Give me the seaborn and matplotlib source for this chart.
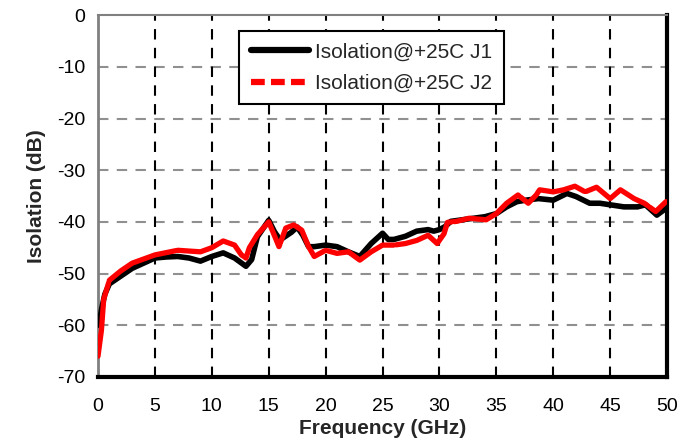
import numpy as np
import pandas as pd
import seaborn as sns
import matplotlib
matplotlib.use("Agg")
from matplotlib import pyplot as plt
from matplotlib.lines import Line2D

# values
freq_j1 = [0.1, 0.3, 0.6, 1, 2, 3, 4, 5, 6, 7, 8, 9, 10, 11, 12, 13, 13.5, 14, 15,
           15.5, 16, 17, 17.5, 18, 18.5, 19, 20, 21, 22, 23, 24, 25, 25.5, 26, 27,
           28, 29, 29.5, 30, 30.5, 31, 32, 33, 34, 35, 35.9, 36.8, 37.6, 38.7, 40,
           41.2, 42, 43.2, 44.1, 45, 46.2, 47.4, 48.1, 49.1, 49.9]
iso_j1 = [-60, -57, -54, -52, -50.5, -49, -48, -47, -46.8, -46.7, -47, -47.6,
          -46.7, -46, -47, -48.6, -47.3, -42.9, -39.7, -41.9, -43.5, -42, -41,
          -42.6, -44.8, -44.8, -44.5, -44.8, -45.8, -46.7, -44.2, -42.2, -43.4,
          -43.4, -42.8, -41.8, -41.5, -41.8, -41.5, -40.9, -39.9, -39.6, -39.3,
          -39.0, -38.4, -37.1, -36.1, -35.8, -35.5, -35.8, -34.5, -35.1, -36.4,
          -36.4, -36.7, -37.1, -37.1, -36.7, -38.7, -37.4]

freq_j2 = [0.0, 0.3, 0.5, 1, 2, 3, 5, 7, 9, 10, 11, 12, 12.6, 13, 13.3, 14, 15,
           15.9, 16.5, 17.2, 17.9, 18.5, 19, 20, 21, 22, 23, 24, 25, 26, 27, 28,
           29, 29.8, 30.4, 30.7, 31.5, 32.6, 34.1, 35, 35.9, 36.9, 37.8, 38.5,
           38.8, 40, 40.9, 41.9, 42.8, 43.8, 45, 45.9, 47.1, 48, 49, 49.9]
iso_j2 = [-66, -61, -55, -51.3, -49.5, -48, -46.4, -45.5, -45.8, -45, -43.7,
          -44.5, -46.4, -47, -45, -42.5, -40, -44.8, -41.2, -40.6, -41.6, -44.8,
          -46.7, -45.5, -46.1, -45.8, -47.4, -45.8, -44.5, -44.5, -44.2, -43.6,
          -42.6, -44.2, -42.3, -40.1, -39.9, -39.3, -39.6, -38.4, -36.4, -34.8,
          -36.4, -34.8, -33.8, -34.2, -33.8, -33.1, -34.2, -33.3, -35.5, -33.8,
          -35.5, -36.4, -38.0, -36.1]

labels = ["Isolation@+25C J1", "Isolation@+25C J2"]
x_ticks = list(range(0, 51, 5))
y_ticks = list(range(-70, 1, 10))

df1 = pd.DataFrame({"Frequency": freq_j1, "Isolation": iso_j1})
df2 = pd.DataFrame({"Frequency": freq_j2, "Isolation": iso_j2})

sns.set_theme(style="white")
plt.rcParams["font.family"] = ["Liberation Sans", "DejaVu Sans"]
plt.rcParams["axes.unicode_minus"] = False

fig = plt.figure(figsize=(7, 4.46), dpi=100)
ax = fig.add_axes([0.14, 0.155, 0.813, 0.811])

sns.lineplot(data=df1, x="Frequency", y="Isolation", ax=ax, color="black",
             linewidth=4, zorder=3)
sns.lineplot(data=df2, x="Frequency", y="Isolation", ax=ax, color="#ff0000",
             linewidth=3.8, zorder=4)
ax.lines[0].set_solid_joinstyle("round")
ax.lines[0].set_solid_capstyle("round")
ax.lines[-1].set_dashes((14, 0.5))
ax.lines[-1].set_dash_joinstyle("round")
ax.lines[-1].set_dash_capstyle("round")

ax.set_xlim(0, 50)
ax.set_ylim(-70, 0)
ax.set_xticks(x_ticks)
ax.set_yticks(y_ticks)
ax.tick_params(axis="both", labelsize=14, colors="black")
ax.tick_params(axis="y", direction="inout", length=10, width=1.5,
               color="#808080", pad=4)
ax.tick_params(axis="x", length=0, pad=15)

for y in y_ticks[1:-1]:
    ax.axhline(y, color="#909090", linestyle=(0, (5, 4)), linewidth=1.5, zorder=1)
for x in x_ticks[1:-1]:
    ax.axvline(x, color="black", linestyle=(0, (5, 4)), linewidth=1.5, zorder=1)

ax.spines["left"].set_color("#808080")
ax.spines["left"].set_linewidth(2)
ax.spines["top"].set_color("#808080")
ax.spines["top"].set_linewidth(1.5)
ax.spines["right"].set_color("black")
ax.spines["right"].set_linewidth(3)
ax.spines["bottom"].set_color("black")
ax.spines["bottom"].set_linewidth(3)

ax.set_xlabel("Frequency (GHz)", fontsize=15, fontweight="bold", labelpad=3)
ax.set_ylabel("Isolation (dB)", fontsize=15, fontweight="bold", labelpad=8)

handles = [Line2D([], [], color="black", linewidth=4.5),
           Line2D([], [], color="#ff0000", linewidth=4.5, dashes=(2.2, 1))]
leg = ax.legend(handles, labels, loc="upper left", bbox_to_anchor=(0.23, 0.985),
                fontsize=15, frameon=True, fancybox=False, handlelength=2.8,
                handletextpad=0.3, borderpad=0.55, labelspacing=0.6)
leg.get_frame().set_edgecolor("black")
leg.get_frame().set_linewidth(1.5)
leg.get_frame().set_alpha(1)

fig.savefig("out.png", dpi=100)
